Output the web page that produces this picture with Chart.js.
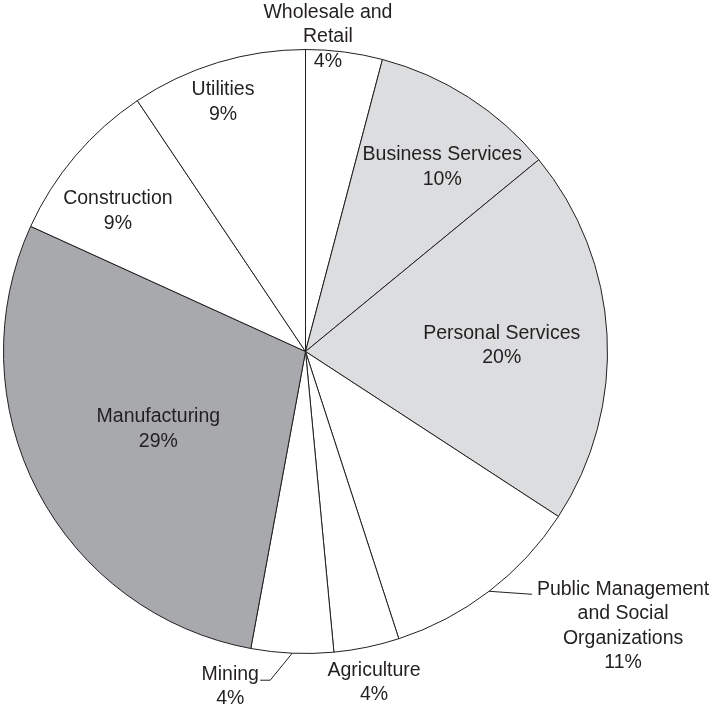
<!DOCTYPE html>
<html>
<head>
<meta charset="utf-8">
<script src="https://cdn.jsdelivr.net/npm/chart.js@4.4.0/dist/chart.umd.min.js"></script>
<style>
html, body { margin: 0; padding: 0; background: #fff; }
#wrap { width: 714px; height: 709px; }
</style>
</head>
<body>
<div id="wrap"><canvas id="chart" width="714" height="709"></canvas></div>
<script>
// Sectors, clockwise from 12 o'clock
const sectors = ['Wholesale and Retail', 'Business Services', 'Personal Services',
    'Public Management and Social Organizations', 'Agriculture', 'Mining',
    'Manufacturing', 'Construction', 'Utilities'];
const shares = [4.1, 9.95, 20.15, 10.8, 3.5, 4.4, 28.9, 8.8, 9.4];
const sectorLines = [['Wholesale and', 'Retail'], ['Business Services'], ['Personal Services'],
    ['Public Management', 'and Social', 'Organizations'], ['Agriculture'], ['Mining'],
    ['Manufacturing'], ['Construction'], ['Utilities']];

const fills = ['#ffffff', '#dcdddf', '#dcdddf', '#ffffff', '#ffffff', '#ffffff', '#a7a9ac', '#ffffff', '#ffffff'];
const ink = '#231f20';
const lineGap = 24.5;

// Where each label sits: polar (fraction of radius, angle shift in degrees)
// or a leader line (offsets from the arc point) plus text offset from its end
const labelSpots = [
    { r: 1.044, shift: -3.3 },
    { r: 0.76, shift: 3.9 },
    { r: 0.65, shift: 1.5 },
    { leader: [[43, 3]], text: [91, -5] },
    { r: 1.12, shift: 0 },
    { leader: [[-22, 27], [-10, 0]], text: [-30, -6] },
    { r: 0.551, shift: -0.3 },
    { r: 0.776, shift: -3.5 },
    { r: 0.869, shift: -1.4 }
];

const sliceLabels = {
    id: 'sliceLabels',
    afterDatasetsDraw(chart) {
        const ctx = chart.ctx;
        const arcs = chart.getDatasetMeta(0).data;
        ctx.save();
        ctx.fillStyle = ink;
        ctx.strokeStyle = ink;
        ctx.lineWidth = 1;
        ctx.font = '19.5px "Liberation Sans", Arial, sans-serif';
        ctx.textAlign = 'center';
        ctx.textBaseline = 'middle';
        arcs.forEach((arc, i) => {
            const spot = labelSpots[i];
            const lines = sectorLines[i].concat([Math.round(shares[i]) + '%']);
            const mid = (arc.startAngle + arc.endAngle) / 2;
            let x, y;
            if (spot.leader) {
                let px = arc.x + Math.cos(mid) * arc.outerRadius;
                let py = arc.y + Math.sin(mid) * arc.outerRadius;
                ctx.beginPath();
                ctx.moveTo(px, py);
                spot.leader.forEach(p => {
                    px += p[0];
                    py += p[1];
                    ctx.lineTo(px, py);
                });
                ctx.stroke();
                x = px + spot.text[0];
                y = py + spot.text[1];
            } else {
                const a = mid + spot.shift * Math.PI / 180;
                x = arc.x + Math.cos(a) * arc.outerRadius * spot.r;
                y = arc.y + Math.sin(a) * arc.outerRadius * spot.r - (lines.length - 1) * lineGap / 2;
            }
            lines.forEach((t, k) => ctx.fillText(t, x, y + k * lineGap));
        });
        ctx.restore();
    }
};

new Chart(document.getElementById('chart'), {
    type: 'pie',
    data: {
        labels: sectors,
        datasets: [{
            data: shares,
            backgroundColor: fills,
            borderColor: ink,
            borderWidth: 1
        }]
    },
    options: {
        responsive: false,
        animation: false,
        layout: { padding: { left: 3, right: 106, top: 49, bottom: 55 } },
        plugins: {
            legend: { display: false },
            tooltip: { enabled: false }
        }
    },
    plugins: [sliceLabels]
});
</script>
</body>
</html>
